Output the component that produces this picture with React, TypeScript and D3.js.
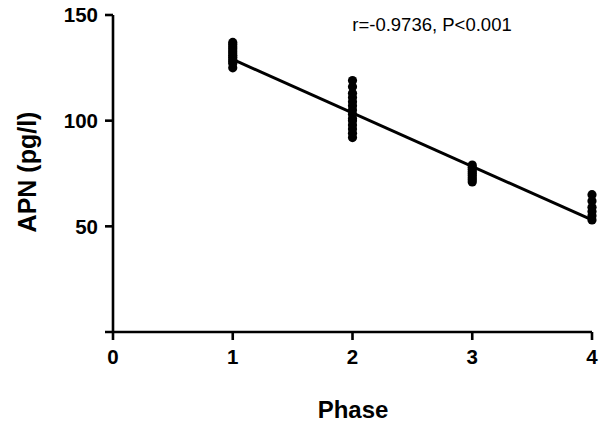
import React from "react";
import * as d3 from "d3";

// APN values read per phase
const phase1 = [125, 127, 128, 129, 130, 131, 132, 133, 134, 135, 136, 137];
const phase2 = [92, 94, 96, 98, 100, 101, 103, 105, 107, 109, 111, 113, 116, 119];
const phase3 = [71, 72, 73, 74, 75, 76, 77, 78, 79];
const phase4 = [53, 55, 57, 59, 62, 65];
const phases = [1, 2, 3, 4];
const groups = [phase1, phase2, phase3, phase4];

// regression line end points (phase, APN)
const fitLine: [number, number][] = [
  [1, 129],
  [4, 53],
];

const xTicks = [0, 1, 2, 3, 4];
const yTicks = [50, 100, 150];
const annotation = "r=-0.9736, P<0.001";

const W = 602;
const H = 427;
const FONT = "Liberation Sans, Arial, sans-serif";

export default function App() {
  const x = d3.scaleLinear().domain([0, 4]).range([113, 592]);
  const y = d3.scaleLinear().domain([0, 150]).range([332, 15]);

  const line = d3
    .line<[number, number]>()
    .x((d) => x(d[0]))
    .y((d) => y(d[1]));

  const points = groups.flatMap((g, i) => g.map((v) => ({ p: phases[i], v })));

  return (
    <svg
      width={W}
      height={H}
      style={{ position: "absolute", left: 0, top: 0, background: "#fff" }}
      fontFamily={FONT}
    >
      <g stroke="#000" strokeWidth={2.6}>
        <line x1={x(0)} x2={x(0)} y1={y(0)} y2={y(150)} />
        {yTicks.map((t) => (
          <line key={t} x1={x(0) - 8} x2={x(0)} y1={y(t)} y2={y(t)} />
        ))}
        <line x1={x(0) - 8} x2={x(4)} y1={y(0)} y2={y(0)} />
        {xTicks.map((t) => (
          <line key={t} x1={x(t)} x2={x(t)} y1={y(0)} y2={y(0) + 8} />
        ))}
      </g>
      <g fontSize={20.5} fontWeight="bold" textAnchor="end">
        {yTicks.map((t) => (
          <text key={t} x={x(0) - 15} y={y(t)} dy="0.36em">
            {t}
          </text>
        ))}
      </g>
      <g fontSize={20.5} fontWeight="bold" textAnchor="middle">
        {xTicks.map((t) => (
          <text key={t} x={x(t)} y={364}>
            {t}
          </text>
        ))}
      </g>
      <text
        transform={`translate(36,172) rotate(-90)`}
        textAnchor="middle"
        fontSize={25}
        fontWeight="bold"
      >
        APN (pg/l)
      </text>
      <text x={353} y={418} textAnchor="middle" fontSize={24} fontWeight="bold">
        Phase
      </text>

      {points.map((d, i) => (
        <circle key={i} cx={x(d.p)} cy={y(d.v)} r={4.6} fill="#000" />
      ))}
      <path d={line(fitLine) ?? ""} stroke="#000" strokeWidth={3} fill="none" />

      <text x={432} y={31} textAnchor="middle" fontSize={18.5}>
        {annotation}
      </text>
    </svg>
  );
}
